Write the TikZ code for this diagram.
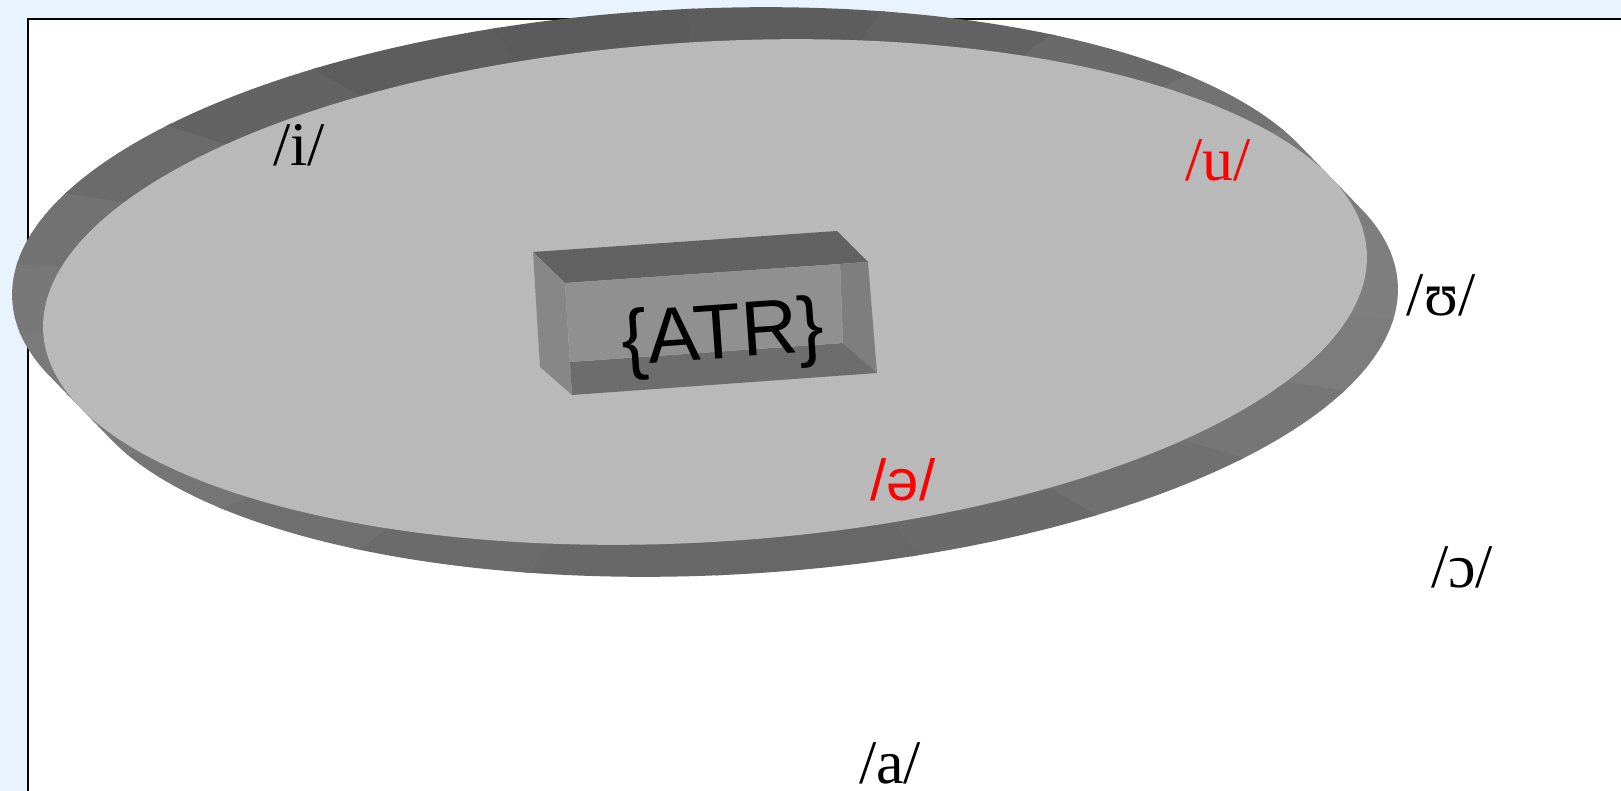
\documentclass[tikz,border=0pt]{standalone}
\usepackage{fontspec}
\setmainfont{Liberation Serif}
\newfontfamily\sansipa{Liberation Sans}
\definecolor{pagebg}{HTML}{E9F3FE}
\definecolor{platgray}{HTML}{B9B9B9}
\definecolor{boxtop}{HTML}{626262}
\definecolor{boxleft}{HTML}{878787}
\definecolor{boxfront}{HTML}{909090}
\definecolor{boxright}{HTML}{7E7E7E}
\definecolor{boxbottom}{HTML}{6D6D6D}

\begin{document}
\begin{tikzpicture}[x=0.5pt, y=-0.5pt,
  vowel/.style={inner sep=0pt, font=\fontsize{31}{36}\selectfont},
  marked/.style={vowel, text=red},
  atrlabel/.style={inner sep=0pt, rotate=4, font=\sansipa\fontsize{39}{46}\selectfont},
  plate/.style={x radius=331.5pt, y radius=125pt, rotate=3.5}
]
  \useasboundingbox (0,0) rectangle (1621,791);
  \fill[pagebg] (0,0) rectangle (1621,791);
  \draw[line width=0.9pt, fill=white] (28,19) rectangle (1700,900);

  % plate: rim swept along (31,32), shaded in facets, then the top face
  \coordinate (platc) at (705,292);
  \begin{scope}
    \clip \foreach \t in {-10,...,10} {(705+3.1*\t,292+3.2*\t) ellipse [plate]};
    \begin{scope}[shift={(705,292)}, rotate=3.5]
      \foreach \a in {0,15,...,345} {
        \pgfmathtruncatemacro\g{111+12.5*cos(2*\a)-5*sin(2*\a)+5.5*sin(\a)+3.5*cos(\a)}
        \definecolor{facet}{RGB}{\g,\g,\g}
        \fill[facet] (0,0) -- ({1061*cos(\a)},{400*sin(\a)})
          -- ({1061*cos(\a+15.5)},{400*sin(\a+15.5)}) -- cycle;
      }
    \end{scope}
  \end{scope}
  \fill[platgray] (platc) ellipse [plate];

  % bevelled box
  \coordinate (o1) at (533,252);
  \coordinate (o2) at (837,231);
  \coordinate (o3) at (868,262);
  \coordinate (o4) at (877,373);
  \coordinate (o5) at (572,395);
  \coordinate (o6) at (540,367);
  \coordinate (f1) at (565,283);
  \coordinate (f2) at (840,264);
  \coordinate (f3) at (843,343);
  \coordinate (f4) at (570,362);
  \fill[boxtop] (o1) -- (o2) -- (o3) -- (f1) -- cycle;
  \fill[boxleft] (o1) -- (f1) -- (o5) -- (o6) -- cycle;
  \fill[boxright] (f2) -- (o3) -- (o4) -- (f3) -- cycle;
  \fill[boxbottom] (f4) -- (f3) -- (o4) -- (o5) -- cycle;
  \fill[boxfront] (f1) -- (f2) -- (f3) -- (f4) -- cycle;
  \node[atrlabel] (atr) at (723,338) {\{ATR\}};

  % vowels
  \node[vowel] (i) at (299,145) {/i/};
  \node[marked] (u) at (1218,160) {/u/};
  \node[vowel] (upsilon) at (1441,295) {/ʊ/};
  \node[marked, font=\sansipa\fontsize{29}{34}\selectfont] (schwa) at (903,480) {/ə/};
  \node[vowel] (openo) at (1462,567) {/ɔ/};
  \node[vowel] (a) at (890,763) {/a/};
\end{tikzpicture}
\end{document}
